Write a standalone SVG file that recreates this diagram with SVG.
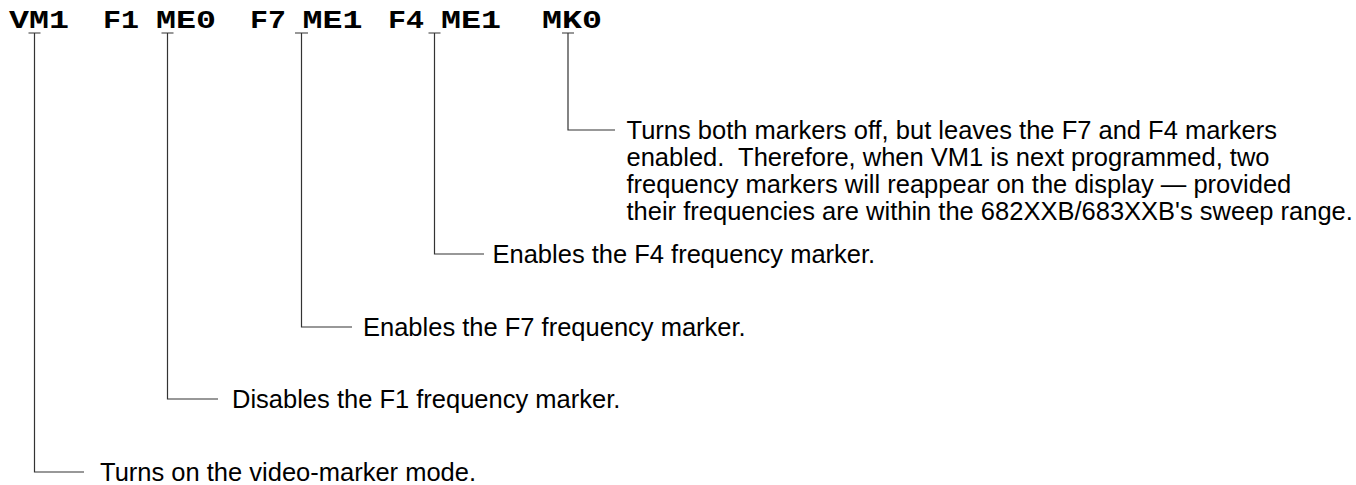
<svg xmlns="http://www.w3.org/2000/svg" width="1356" height="485" viewBox="0 0 1356 485">
<style>
.cmd{font-family:"Liberation Mono","Courier New",monospace;font-weight:bold;font-size:26px;fill:#000}
.lbl{font-family:"Liberation Sans",Arial,sans-serif;font-size:25.5px;fill:#000;white-space:pre}
.ln{fill:none;stroke:#333;stroke-width:1.2}
</style>
<rect width="1356" height="485" fill="#fff"/>
<g id="command-line">
<text class="cmd" x="9" y="27.5" textLength="60" lengthAdjust="spacingAndGlyphs">VM1</text>
<text class="cmd" x="103" y="27.5" textLength="36" lengthAdjust="spacingAndGlyphs">F1</text>
<text class="cmd" x="156" y="27.5" textLength="60" lengthAdjust="spacingAndGlyphs">ME0</text>
<text class="cmd" x="250" y="27.5" textLength="36" lengthAdjust="spacingAndGlyphs">F7</text>
<text class="cmd" x="302.5" y="27.5" textLength="60" lengthAdjust="spacingAndGlyphs">ME1</text>
<text class="cmd" x="388" y="27.5" textLength="36" lengthAdjust="spacingAndGlyphs">F4</text>
<text class="cmd" x="441" y="27.5" textLength="60" lengthAdjust="spacingAndGlyphs">ME1</text>
<text class="cmd" x="542" y="27.5" textLength="60" lengthAdjust="spacingAndGlyphs">MK0</text>
</g>
<g id="connectors">
<path class="ln" d="M28.5 33H40.5M34.5 33V472H84"/>
<path class="ln" d="M161.5 33H173.5M167.5 33V399H218"/>
<path class="ln" d="M295 33H308M301.5 33V327H352"/>
<path class="ln" d="M428.5 33H440.5M434.5 33V254H484"/>
<path class="ln" d="M562 33H574M568 33V130H615"/>
</g>
<g id="note-vm1"><text class="lbl" x="100" y="481">Turns on the video-marker mode.</text></g>
<g id="note-me0"><text class="lbl" x="232" y="408">Disables the F1 frequency marker.</text></g>
<g id="note-f7"><text class="lbl" x="363" y="336">Enables the F7 frequency marker.</text></g>
<g id="note-f4"><text class="lbl" x="492.5" y="263">Enables the F4 frequency marker.</text></g>
<g id="note-mk0">
<text class="lbl" x="626.5" y="139">Turns both markers off, but leaves the F7 and F4 markers</text>
<text class="lbl" x="626.5" y="166" xml:space="preserve">enabled.  Therefore, when VM1 is next programmed, two</text>
<text class="lbl" x="626.5" y="193">frequency markers will reappear on the display — provided</text>
<text class="lbl" x="626.5" y="220">their frequencies are within the 682XXB/683XXB's sweep range.</text>
</g>
</svg>
